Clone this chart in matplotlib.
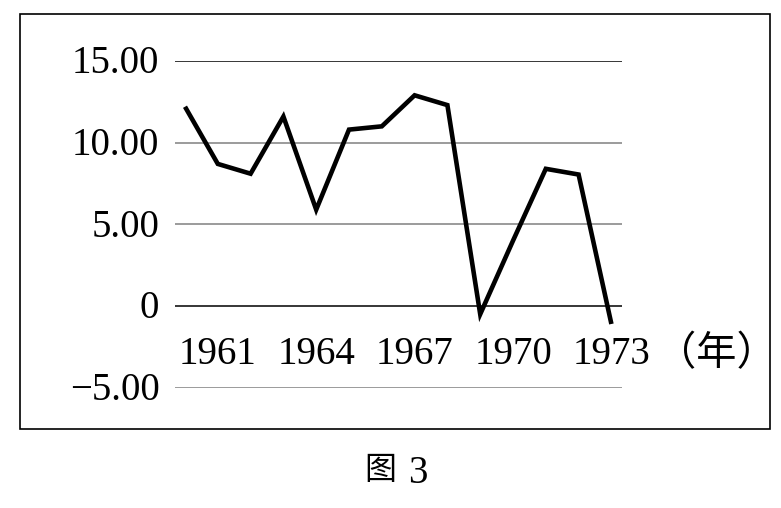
import matplotlib.pyplot as plt
from matplotlib.patches import Rectangle

# data
years = [1960, 1961, 1962, 1963, 1964, 1965, 1966, 1967, 1968, 1969, 1970, 1971, 1972, 1973]
values = [12.2, 8.7, 8.1, 11.6, 5.9, 10.8, 11.0, 12.9, 12.3, -0.5, 4.0, 8.4, 8.05, -1.1]
y_ticks = [15, 10, 5, 0, -5]
y_labels = ['15.00', '10.00', '5.00', '0', '\u22125.00']
grid_colors = ['black', '#808080', '#808080', 'black', '#808080']
x_labels = [1961, 1964, 1967, 1970, 1973]

W, H = 781, 508
fig = plt.figure(figsize=(W / 100, H / 100), dpi=100)

# axes placed so the grid spans the same pixels as the reference
left, right = 175, 622
top, bottom = 61, 387.7
ax = fig.add_axes([left / W, 1 - bottom / H, (right - left) / W, (bottom - top) / H])
ax.set_xlim(1959.695, 1973.323)
ax.set_ylim(-5, 15)
ax.axis('off')

for v, c in zip(y_ticks, grid_colors):
    ax.axhline(v, color=c, lw=1.1, zorder=1)

serif = 'Liberation Serif'
for v, lab in zip(y_ticks, y_labels):
    ax.text(-0.035, v - 0.75, lab, transform=ax.get_yaxis_transform(),
            ha='right', va='baseline', fontsize=28, family=serif)

ax.plot(years, values, color='black', lw=3.3, solid_joinstyle='miter',
        solid_capstyle='butt', zorder=3, clip_on=False)

for yr in x_labels:
    ax.text(yr, -3.55, str(yr), ha='center', va='baseline', fontsize=28, family=serif)

fig.text(716.5 / W, 1 - 354 / H, '（年）', ha='center', va='center',
         fontsize=29, family='Noto Sans CJK SC')

# caption
fig.text(380 / W, 1 - 470 / H, '图', ha='center', va='center',
         fontsize=23, family='Noto Sans CJK SC')
fig.text(418 / W, 1 - 483 / H, '3', ha='center', va='baseline',
         fontsize=28, family=serif)

# outer frame
fig.patches.append(Rectangle((19.5 / W, 1 - 429.3 / H), (770.3 - 19.5) / W, (429.3 - 13.5) / H,
                             transform=fig.transFigure, fill=False, lw=1.2, ec='black'))

fig.savefig('out.png', dpi=100)
